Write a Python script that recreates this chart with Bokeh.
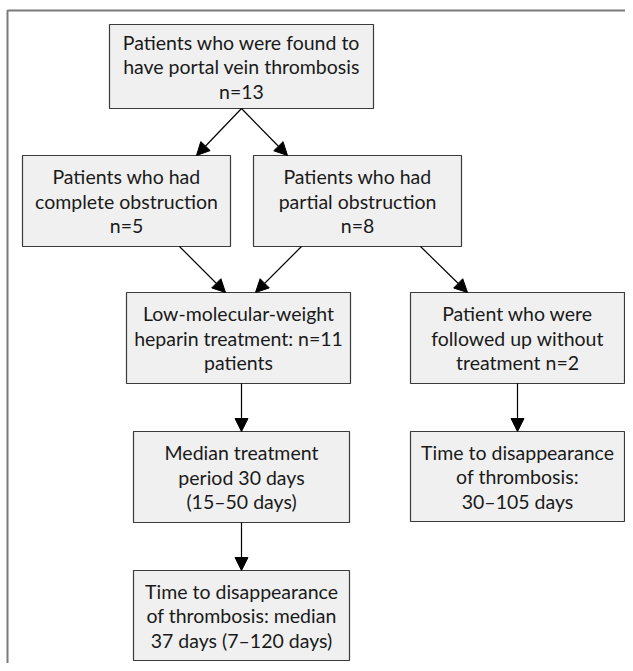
from bokeh.plotting import figure
from bokeh.models import Range1d, Arrow, NormalHead
from bokeh.core.properties import value
from bokeh.embed import file_html
from bokeh.resources import INLINE

# ---- content ----
box_ids = ["all", "complete", "partial", "lmwh", "nofollow", "period", "time_lmwh", "time_nofollow"]
box_texts = [
    ["Patients who were found to", "have portal vein thrombosis", "n=13"],
    ["Patients who had", "complete obstruction", "n=5"],
    ["Patients who had", "partial obstruction", "n=8"],
    ["Low-molecular-weight", "heparin treatment: n=11", "patients"],
    ["Patient who were", "followed up without", "treatment n=2"],
    ["Median treatment", "period 30 days", "(15\u201350 days)"],
    ["Time to disappearance", "of thrombosis: median", "37 days (7\u2013120 days)"],
    ["Time to disappearance", "of thrombosis:", "30\u2013105 days"],
]
links = [("all", "complete"), ("all", "partial"), ("complete", "lmwh"), ("partial", "lmwh"),
         ("partial", "nofollow"), ("lmwh", "period"), ("nofollow", "time_nofollow"),
         ("period", "time_lmwh")]

# ---- layout (pixel coordinates of the picture) ----
layout = {
    "all": (109, 373, 24, 108),
    "complete": (22, 230, 155, 246),
    "partial": (253, 461, 155, 246),
    "lmwh": (126, 350, 292, 383),
    "nofollow": (410, 624, 292, 383),
    "period": (133, 349, 431, 522),
    "time_lmwh": (133, 349, 570, 660),
    "time_nofollow": (410, 624, 431, 521),
}
# arrow endpoints: (x_start, y_start, x_end, y_end)
arrow_pos = {
    ("all", "complete"): (241, 108, 196, 155),
    ("all", "partial"): (241, 108, 287, 155),
    ("complete", "lmwh"): (179, 246, 225, 292),
    ("partial", "lmwh"): (301, 246, 255, 292),
    ("partial", "nofollow"): (420, 246, 467, 292),
    ("lmwh", "period"): (241, 383, 241, 431),
    ("nofollow", "time_nofollow"): (517, 383, 517, 431),
    ("period", "time_lmwh"): (241, 522, 241, 570),
}

W, H = 625, 663
p = figure(width=W, height=H, x_range=Range1d(0, W), y_range=Range1d(H, 0),
           output_backend="svg", toolbar_location=None, min_border=0)
p.axis.visible = False
p.grid.visible = False
p.outline_line_color = None
p.background_fill_color = "white"

# outer frame
p.quad(left=[7], right=[W + 20], top=[10], bottom=[H + 20], fill_color=None,
       line_color="#7a7a7a", line_width=2)

L = [layout[b][0] for b in box_ids]
R = [layout[b][1] for b in box_ids]
T = [layout[b][2] for b in box_ids]
B = [layout[b][3] for b in box_ids]
p.quad(left=L, right=R, top=T, bottom=B, fill_color="#f0f0f0",
       line_color="#3a3a3a", line_width=1.2)

xs, ys, txt = [], [], []
spacing = 24.5
for b, lines in zip(box_ids, box_texts):
    l, r, t, bt = layout[b]
    cx = (l + r) / 2
    cy = (t + bt) / 2
    n = len(lines)
    for i, s in enumerate(lines):
        xs.append(cx)
        ys.append(cy + (i - (n - 1) / 2) * spacing)
        txt.append(s)
p.text(x=xs, y=ys, text=txt, text_align="center", text_baseline="middle",
       text_font=value("Lato"), text_font_size="19.5px", text_color="#1a1a1a")

for k in links:
    x0, y0, x1, y1 = arrow_pos[k]
    p.add_layout(Arrow(end=NormalHead(size=13, fill_color="black", line_color="black", line_width=1),
                       x_start=x0, y_start=y0, x_end=x1, y_end=y1,
                       line_color="black", line_width=1.2))

open("out.html", "w").write(file_html(p, INLINE))
